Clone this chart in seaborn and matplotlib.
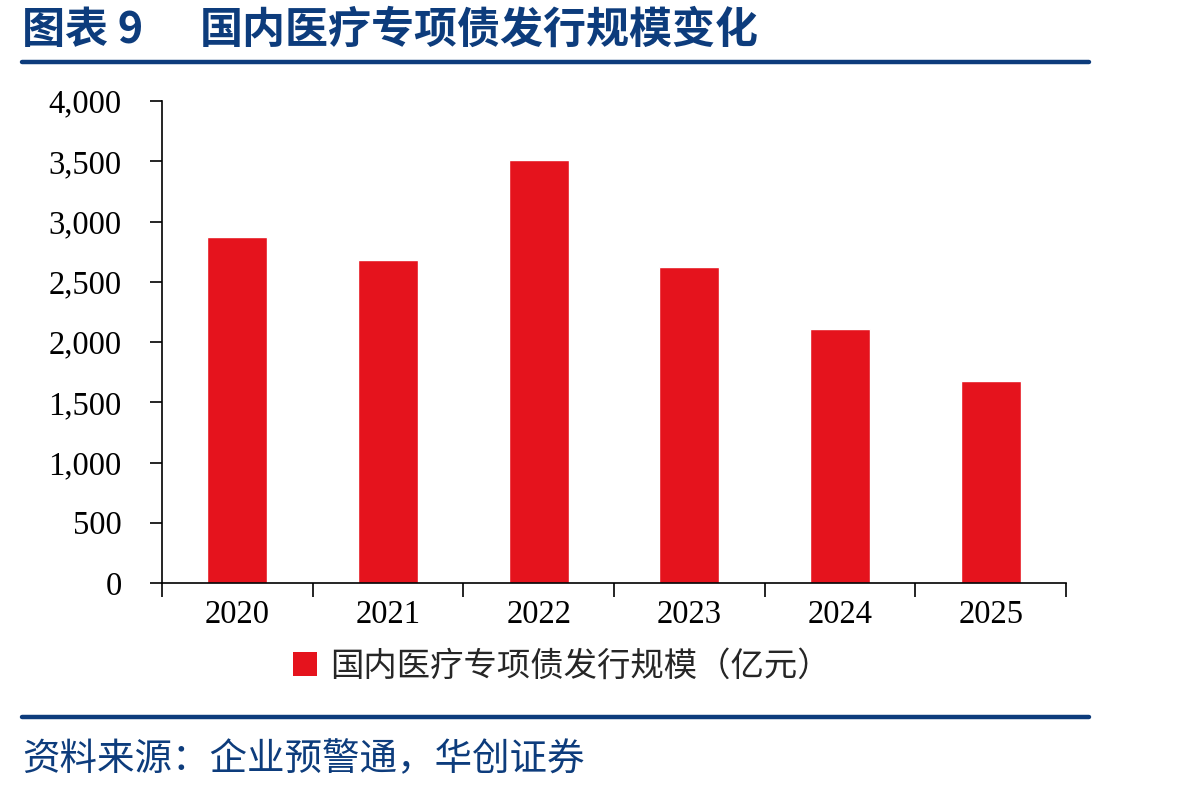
import matplotlib
matplotlib.use("Agg")
import matplotlib.pyplot as plt
import matplotlib.ticker as mticker
from matplotlib.lines import Line2D
from matplotlib.patches import Patch
import seaborn as sns
import pandas as pd

years = ["2020", "2021", "2022", "2023", "2024", "2025"]
issuance = [2870, 2679, 3507, 2621, 2112, 1674]
series_name = "国内医疗专项债发行规模（亿元）"
title_label = "图表 9"
title_text = "国内医疗专项债发行规模变化"
source_text = "资料来源：企业预警通，华创证券"
yticks = [0, 500, 1000, 1500, 2000, 2500, 3000, 3500, 4000]

RED = "#E5131D"
BLUE = "#0D3C7C"

sns.set_theme(style="white")
plt.rcParams["font.family"] = ["Noto Sans CJK SC", "DejaVu Sans"]

df = pd.DataFrame({"year": years, "value": issuance})

fig = plt.figure(figsize=(11.98, 7.92), dpi=100)
ax = fig.add_axes([162 / 1198, 1 - 583 / 792, (1066 - 162) / 1198, (583 - 101) / 792])

sns.barplot(data=df, x="year", y="value", color=RED, width=0.4, saturation=1, ax=ax)

ax.set_xlim(-0.5, len(years) - 0.5)
ax.set_ylim(0, 4000)
ax.set_yticks(yticks)
ax.yaxis.set_major_formatter(mticker.FuncFormatter(lambda v, p: f"{int(v):,}"))
ax.set_xlabel("")
ax.set_ylabel("")

for s in ["top", "right"]:
    ax.spines[s].set_visible(False)
for s in ["left", "bottom"]:
    ax.spines[s].set_color("black")
    ax.spines[s].set_linewidth(1.2)

ax.tick_params(axis="y", which="major", direction="out", length=9, width=1.2, color="black", left=True, pad=20)
ax.tick_params(axis="x", which="major", length=0, pad=12)
ax.set_xticks([i - 0.5 for i in range(len(years) + 1)], minor=True)
ax.tick_params(axis="x", which="minor", direction="out", length=10, width=1.2, color="black", bottom=True)

for lab in ax.get_xticklabels() + ax.get_yticklabels():
    lab.set_fontfamily("Liberation Serif")
    lab.set_fontsize(23.5)
    lab.set_color("black")

# legend
handle = Patch(facecolor=RED, edgecolor="none")
fig.legend([handle], [series_name], loc="center", bbox_to_anchor=(562 / 1198, 1 - 666 / 792),
           frameon=False, handlelength=0.7, handleheight=0.7, handletextpad=0.4,
           prop={"family": ["Noto Sans CJK SC", "DejaVu Sans"], "size": 24})

# title
fig.text(22 / 1198, 1 - 30 / 792, title_label, ha="left", va="center", fontsize=31,
         fontweight="bold", color=BLUE, family=["Noto Sans CJK SC", "DejaVu Sans"])
fig.text(200 / 1198, 1 - 30 / 792, title_text, ha="left", va="center", fontsize=31,
         fontweight="bold", color=BLUE, family=["Noto Sans CJK SC", "DejaVu Sans"])
fig.add_artist(Line2D([22 / 1198, 1089 / 1198], [1 - 62 / 792, 1 - 62 / 792], color=BLUE, lw=3.2,
                      transform=fig.transFigure))
fig.add_artist(Line2D([22 / 1198, 1089 / 1198], [1 - 717 / 792, 1 - 717 / 792], color=BLUE, lw=3.2,
                      transform=fig.transFigure))
fig.text(22 / 1198, 1 - 760 / 792, source_text, ha="left", va="center", fontsize=27,
         color=BLUE, style="italic", family=["Noto Sans CJK SC", "DejaVu Sans"])

fig.savefig("out.png", dpi=100)
